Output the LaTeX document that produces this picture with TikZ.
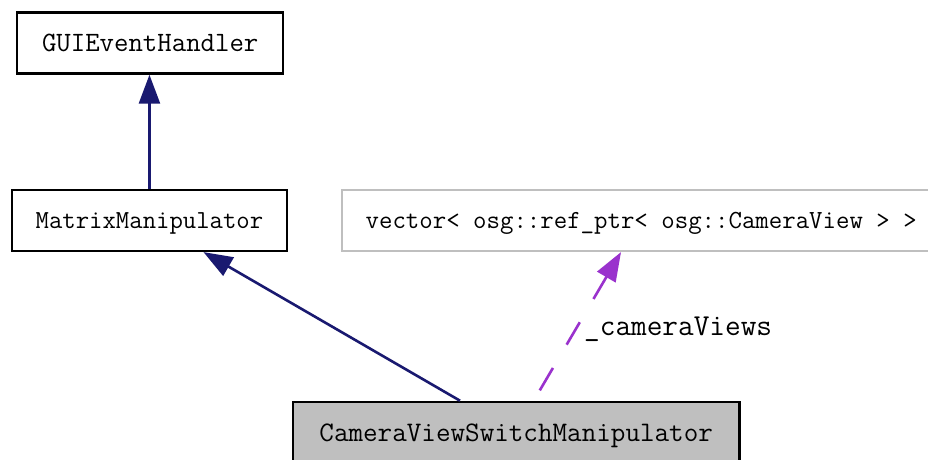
\documentclass[tikz,border=0pt]{standalone}
\usetikzlibrary{arrows.meta,calc}

\definecolor{edgeblue}{HTML}{191970}
\definecolor{memberpurple}{HTML}{9A32CD}
\definecolor{boxgray}{HTML}{BFBFBF}

\tikzset{
  classbox/.style={draw=black, line width=2.4pt, rectangle, inner sep=0pt,
    anchor=north west, text depth=0pt},
  extbox/.style={classbox, draw=boxgray},
  focusbox/.style={classbox, fill=boxgray},
  ttsize/.style={font=\fontsize{#1}{#1}\selectfont\ttfamily},
  inherit/.style={draw=edgeblue, line width=2.6pt,
    -{Triangle[length=29pt,width=21pt]}},
  usage/.style={draw=memberpurple, line width=2.6pt,
    {Triangle[length=29pt,width=21pt]}-,
    dash pattern=on 26pt off 27pt},
}

\begin{document}
\begin{tikzpicture}[x=1pt,y=-1pt]
  \useasboundingbox (0,0) rectangle (928,459);
  \clip (0,0) rectangle (928,459);
  \fill[white] (0,0) rectangle (928,459);

  % class nodes
  \node[classbox, ttsize=28, text height=17.1pt,
        minimum width=266pt, minimum height=61pt] (gui) at (16,11.3) {GUIEventHandler};
  \node[classbox, ttsize=26, text height=15.9pt,
        minimum width=275.5pt, minimum height=61pt] (mm) at (10.5,188.7) {MatrixManipulator};
  \node[extbox, ttsize=26.1, text height=15.9pt,
        minimum width=598.6pt, minimum height=61pt] (vec) at (340.7,188.7)
        {vector< osg::ref\_ptr< osg::CameraView > >};
  \node[focusbox, ttsize=28.3, text height=17.3pt,
        minimum width=446.6pt, minimum height=61pt] (cvsm) at (291.7,400.7)
        {CameraViewSwitchManipulator};

  % inheritance edges
  \draw[inherit] (mm.north) -- (mm.north |- gui.south);
  \draw[inherit] ($(cvsm.north west)+(168.3,0)$) -- ($(mm.south west)+(193,0)$);

  % member edge
  \draw[usage] ($(vec.south west)+(280.3,0)$) -- ($(cvsm.north west)+(242,0)$);
  \node[anchor=base west, ttsize=30.4, inner sep=0pt] (lbl) at (584,335) {\_cameraViews};
\end{tikzpicture}
\end{document}
